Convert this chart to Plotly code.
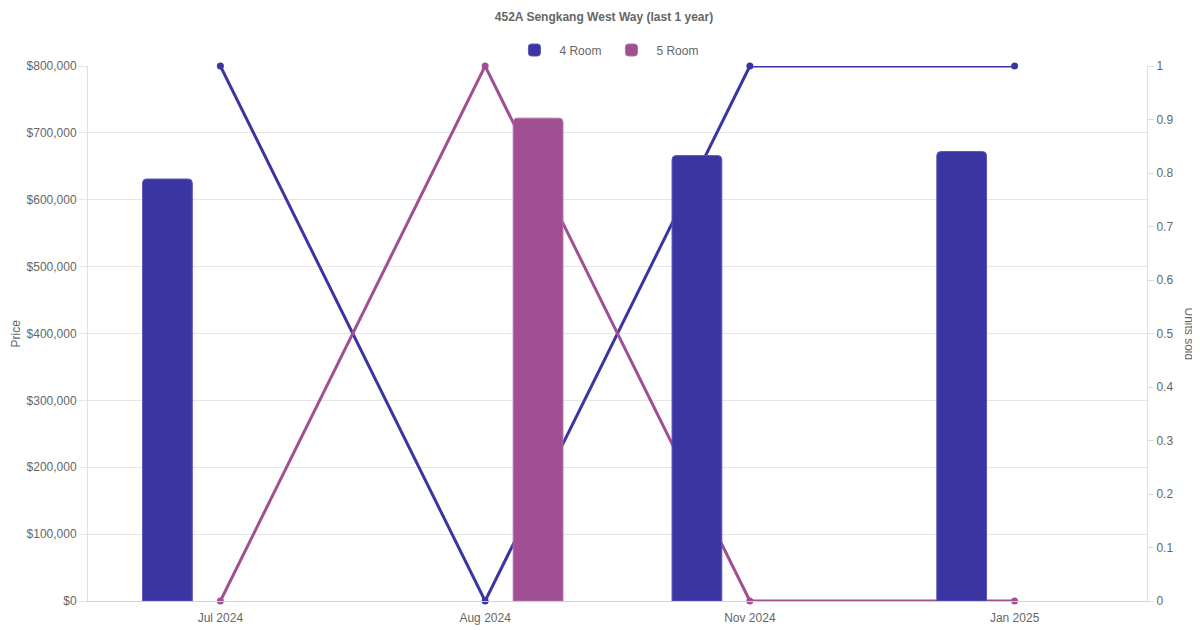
import plotly.graph_objects as go

# months shown on the x axis
months = ["Jul 2024", "Aug 2024", "Nov 2024", "Jan 2025"]

# average price per month (None = no sale of that type)
price_4room = [631000, None, 666000, 672000]
price_5room = [None, 722000, None, None]

# units sold per month
units_4room = [1, 0, 1, 1]
units_5room = [0, 1, 0, 0]

price_ticks = [0, 100000, 200000, 300000, 400000, 500000, 600000, 700000, 800000]
price_labels = ["$" + format(v, ",") for v in price_ticks]
unit_ticks = [0, 0.1, 0.2, 0.3, 0.4, 0.5, 0.6, 0.7, 0.8, 0.9, 1]
unit_labels = ["0", "0.1", "0.2", "0.3", "0.4", "0.5", "0.6", "0.7", "0.8", "0.9", "1"]

blue = "#3a35a0"
purple = "#a05092"
grey_txt = "#666666"
font = "Liberation Sans, Arial, sans-serif"

# page body has an 8px margin, so the figure is shifted by 8px in the window
W, H = 1192, 622
L, R, T, B = 80, 53, 58, 29
plot_w = W - L - R

fig = go.Figure()

# lines go on the primary (units) axis so the bars, on the overlay, sit on top
fig.add_trace(go.Scatter(x=months, y=units_4room, name="4 Room units", mode="lines+markers",
                         line=dict(color=blue, width=3), marker=dict(size=7, color=blue),
                         showlegend=False, yaxis="y", cliponaxis=False))
fig.add_trace(go.Scatter(x=months, y=units_5room, name="5 Room units", mode="lines+markers",
                         line=dict(color=purple, width=3), marker=dict(size=7, color=purple),
                         showlegend=False, yaxis="y", cliponaxis=False))

fig.add_trace(go.Bar(x=months, y=price_4room, name="4 Room", yaxis="y2",
                     marker=dict(color=blue, line=dict(color="#5a56b8", width=1))))
fig.add_trace(go.Bar(x=months, y=price_5room, name="5 Room", yaxis="y2",
                     marker=dict(color=purple, line=dict(color="#b46fa8", width=1))))

fig.update_layout(
    width=W, height=H,
    margin=dict(l=L, r=R, t=T, b=B, autoexpand=False),
    paper_bgcolor="white", plot_bgcolor="white",
    font=dict(family=font, size=12, color=grey_txt),
    title=dict(text="<b>452A Sengkang West Way (last 1 year)</b>", x=0.5, xanchor="center",
               y=1 - 9 / H, yanchor="middle", font=dict(size=12, color=grey_txt)),
    barmode="group", bargap=0.2, bargroupgap=0.53, barcornerradius=4,
    legend=dict(orientation="h", x=0.49, xanchor="center", y=1 - 42 / H, yref="container",
                yanchor="middle", font=dict(size=12, color=grey_txt), traceorder="normal",
                itemwidth=40),
    xaxis=dict(type="category", categoryorder="array", categoryarray=months,
               range=[-0.5, 3.5], showgrid=False, showline=True, linecolor="#d0d0d0",
               ticks="outside", ticklen=6, tickcolor="rgba(0,0,0,0)", automargin=False,
               tickfont=dict(size=12, color=grey_txt)),
    yaxis=dict(side="right", range=[0, 1], tickvals=unit_ticks, ticktext=unit_labels,
               showgrid=False, zeroline=False, showline=True, linecolor="#e0e0e0",
               ticks="outside", ticklen=6, tickcolor="#e0e0e0", automargin=False,
               tickfont=dict(size=12, color=grey_txt)),
    yaxis2=dict(side="left", overlaying="y", range=[0, 800000], tickvals=price_ticks,
                ticktext=price_labels, showgrid=True, gridcolor="#e5e5e5",
                zeroline=False, showline=True, linecolor="#e0e0e0", automargin=False,
                ticks="outside", ticklen=8, tickcolor="#e5e5e5",
                tickfont=dict(size=12, color=grey_txt)),
    annotations=[
        dict(text="Price", xref="paper", yref="paper", x=(7 - L) / plot_w, y=0.5,
             xanchor="center", yanchor="middle", textangle=-90, showarrow=False,
             font=dict(size=12, color=grey_txt)),
        dict(text="Units sold", xref="paper", yref="paper", x=1 + (1181 - (W - R)) / plot_w,
             y=0.5, xanchor="center", yanchor="middle", textangle=90, showarrow=False,
             font=dict(size=12, color=grey_txt)),
    ],
)

fig.write_html("out.html")
